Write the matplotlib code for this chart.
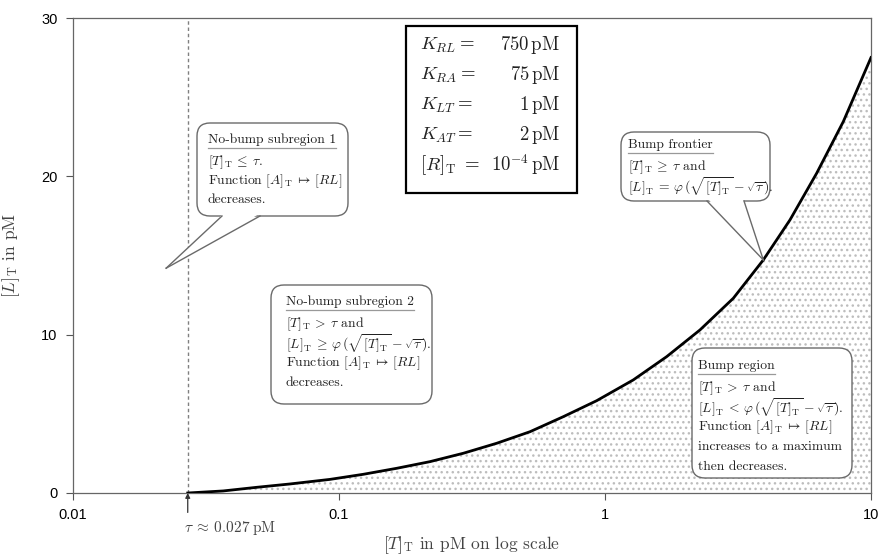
import matplotlib
matplotlib.use("Agg")
import matplotlib.pyplot as plt
from matplotlib.patches import FancyBboxPatch, Polygon
from matplotlib.lines import Line2D

# frontier curve
tau = 0.027
T_total = [0.027, 0.0367, 0.0491, 0.0654, 0.0925, 0.1233, 0.1648, 0.2198, 0.2934, 0.3915,
           0.5224, 0.697, 0.9305, 1.277, 1.705, 2.276, 3.037, 3.937, 4.96, 6.25, 7.87, 10.0]
L_total = [0.0, 0.13, 0.36, 0.57, 0.86, 1.18, 1.56, 1.98, 2.51, 3.14,
           3.87, 4.82, 5.83, 7.14, 8.61, 10.3, 12.3, 14.72, 17.25, 20.2, 23.46, 27.5]
tip_index = 17  # where the "Bump frontier" bubble points

x_ticks = [0.01, 0.1, 1, 10]
x_ticklabels = ["0.01", "0.1", "1", "10"]
y_ticks = [0, 10, 20, 30]

param_names = [r"$K_{RL} =$", r"$K_{RA} =$", r"$K_{LT} =$", r"$K_{AT} =$", r"$[R]_\mathrm{T}\ =$"]
param_values = [r"$750\,\mathrm{pM}$", r"$75\,\mathrm{pM}$", r"$1\,\mathrm{pM}$", r"$2\,\mathrm{pM}$",
                r"$10^{-4}\,\mathrm{pM}$"]

sub1_lines = ["No-bump subregion 1",
              r"$[T]_\mathrm{T} \:\leq\: \tau$.",
              r"Function $[A]_\mathrm{T} \:\mapsto\: [RL]$",
              "decreases."]
sub2_lines = ["No-bump subregion 2",
              r"$[T]_\mathrm{T} \:>\: \tau$ and",
              r"$[L]_\mathrm{T} \:\geq\: \varphi\,(\sqrt{[T]_\mathrm{T}} - \sqrt{\tau})$.",
              r"Function $[A]_\mathrm{T} \:\mapsto\: [RL]$",
              "decreases."]
frontier_lines = ["Bump frontier",
                  r"$[T]_\mathrm{T} \:\geq\: \tau$ and",
                  r"$[L]_\mathrm{T} \:=\: \varphi\,(\sqrt{[T]_\mathrm{T}} - \sqrt{\tau})$."]
bump_lines = ["Bump region",
              r"$[T]_\mathrm{T} \:>\: \tau$ and",
              r"$[L]_\mathrm{T} \:<\: \varphi\,(\sqrt{[T]_\mathrm{T}} - \sqrt{\tau})$.",
              r"Function $[A]_\mathrm{T} \:\mapsto\: [RL]$",
              "increases to a maximum",
              "then decreases."]

plt.rcParams["mathtext.fontset"] = "cm"
plt.rcParams["hatch.linewidth"] = 1.0

W, H, DPI = 880, 556, 100
fig = plt.figure(figsize=(W / DPI, H / DPI), dpi=DPI)
ax = fig.add_axes([73 / W, 63 / H, 798 / W, 475 / H])

ax.fill_between(T_total, 0, L_total, facecolor="white", edgecolor="#bdbdbd",
                hatch="...", linewidth=0, zorder=1)
ax.plot(T_total, L_total, color="black", linewidth=2.0, zorder=3)
ax.axvline(tau, color="#808080", linestyle=(0, (2.5, 2)), linewidth=1.0, zorder=2)

ax.set_xscale("log")
ax.set_xlim(0.01, 10)
ax.set_ylim(0, 30)
ax.set_xticks(x_ticks)
ax.set_xticklabels(x_ticklabels)
ax.xaxis.set_minor_locator(matplotlib.ticker.NullLocator())
ax.set_yticks(y_ticks)
ax.tick_params(direction="out", length=5, width=0.8, colors="#555555",
               labelcolor="black", labelsize=10.5, pad=6)
for lab in ax.get_xticklabels() + ax.get_yticklabels():
    lab.set_family("Liberation Sans")
for s in ax.spines.values():
    s.set_color("#666666")
    s.set_linewidth(0.9)

ax.set_xlabel(r"$[T]_\mathrm{T}$ in pM on log scale", family="cmr10", fontsize=12.5,
              color="#444444", labelpad=9)
ax.set_ylabel(r"$[L]_\mathrm{T}$ in pM", family="cmr10", fontsize=12.5,
              color="#444444", labelpad=14)

# tau marker under the axis
ax.annotate("", xy=(tau, 0), xycoords="data", xytext=(0, -14), textcoords="offset points",
            arrowprops=dict(arrowstyle="-|>", color="#333333", lw=0.9,
                            mutation_scale=7, shrinkA=0, shrinkB=0))
ax.annotate(r"$\tau \:\approx\: 0.027\;\mathrm{pM}$", xy=(tau, 0), xycoords="data",
            xytext=(-2.5, -25.5), textcoords="offset points", ha="left", va="center",
            fontsize=11, color="#444444", family="cmr10")

tr = fig.dpi_scale_trans


def px(x, y):
    # picture pixels (from top-left) -> inches
    return x / DPI, (H - y) / DPI


fig.canvas.draw()
renderer = fig.canvas.get_renderer()


def bubble(left, top, right, bottom, lines, text_left, first_y, step, tip=None, base=None):
    x0, y0 = px(left, bottom)
    x1, y1 = px(right, top)
    box = FancyBboxPatch((x0, y0), x1 - x0, y1 - y0, boxstyle="round,pad=0,rounding_size=0.13",
                         transform=tr, facecolor="white", edgecolor="#6a6a6a", linewidth=1.0,
                         zorder=5)
    fig.add_artist(box)
    if tip is not None:
        tx, ty = ax.transData.transform(tip)
        tx, ty = tx / DPI, ty / DPI
        xa, _ = px(base[0], bottom)
        xb, _ = px(base[1], bottom)
        fig.add_artist(Polygon([(xa + 0.01, y0 + 0.02), (xb - 0.01, y0 + 0.02), (tx, ty)],
                               closed=True, transform=tr, facecolor="white",
                               edgecolor="none", zorder=6))
        for xs in (xa, xb):
            fig.add_artist(Line2D([xs, tx], [y0, ty], transform=tr, color="#6a6a6a",
                                  linewidth=1.0, zorder=7))
    for i, line in enumerate(lines):
        ty_px = first_y + i * step + (3 if i > 0 else 0)
        t = fig.text(*px(text_left, ty_px), line, transform=tr, family="cmr10",
                     fontsize=9.8, color="#222222", ha="left", va="center", zorder=8)
        if i == 0:
            bb = t.get_window_extent(renderer)
            fig.add_artist(Line2D([bb.x0 / DPI, bb.x1 / DPI], [(bb.y0 - 1.5) / DPI] * 2,
                                  transform=tr, color="#999999", linewidth=0.9, zorder=8))


bubble(197, 123, 348, 216, sub1_lines, 208, 140, 19,
       tip=(0.0224, 14.2), base=(222, 260))
bubble(271, 285, 432, 404, sub2_lines, 286, 302, 19.5)
bubble(621, 132, 770, 201, frontier_lines, 628, 145, 19.5,
       tip=(T_total[tip_index], L_total[tip_index]), base=(707, 744))
bubble(692, 348, 852, 478, bump_lines, 698, 366, 19.5)

# parameter box
x0, y0 = px(406, 193)
x1, y1 = px(577, 26)
fig.add_artist(FancyBboxPatch((x0, y0), x1 - x0, y1 - y0, boxstyle="square,pad=0",
                              transform=tr, facecolor="white", edgecolor="black",
                              linewidth=1.6, zorder=5))
for i, (name, val) in enumerate(zip(param_names, param_values)):
    yy = 45 + i * 30
    fig.text(*px(420, yy), name, transform=tr, fontsize=13.5, color="#222222",
             ha="left", va="center", zorder=8)
    fig.text(*px(560, yy), val, transform=tr, fontsize=13.5, color="#222222",
             ha="right", va="center", zorder=8)

fig.savefig("out.png", dpi=DPI)
